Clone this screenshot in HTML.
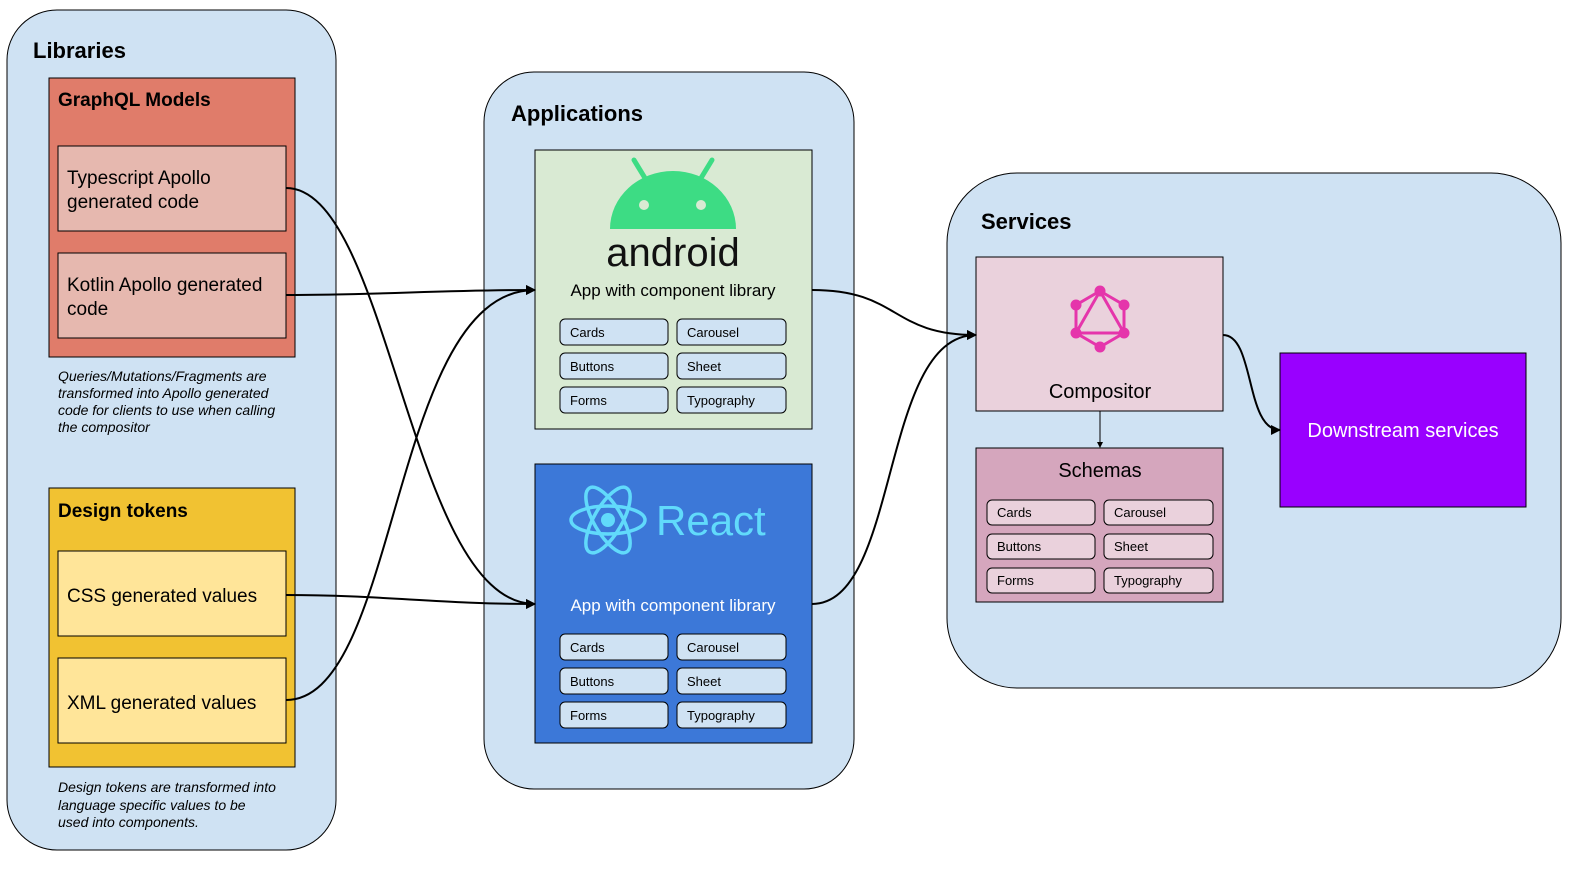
<!DOCTYPE html>
<html><head><meta charset="utf-8"><style>
html,body{margin:0;padding:0;background:#fff;}
svg{display:block;font-family:"Liberation Sans",Arial,sans-serif;}
</style></head><body>
<svg width="1586" height="875" viewBox="0 0 1586 875" xmlns="http://www.w3.org/2000/svg">
<defs>
<marker id="ah" markerWidth="10" markerHeight="10" refX="9" refY="5" orient="auto" markerUnits="userSpaceOnUse"><path d="M0,0 L10,5 L0,10 z" fill="#000"/></marker>
<marker id="ah2" markerWidth="6" markerHeight="6" refX="5" refY="3" orient="auto" markerUnits="userSpaceOnUse"><path d="M0,0 L6,3 L0,6 z" fill="#000"/></marker>
</defs>
<!-- Libraries -->
<rect x="7" y="10" width="329" height="840" rx="50" fill="#cfe2f3" stroke="#000"/>
<text x="33" y="58" font-size="22" font-weight="bold">Libraries</text>
<rect x="49" y="78" width="246" height="279" fill="#e07c6a" stroke="#000"/>
<text x="58" y="106" font-size="19" font-weight="bold">GraphQL Models</text>
<rect x="58" y="146" width="228" height="85" fill="#e6b8af" stroke="#000"/>
<text x="67" y="184" font-size="19">Typescript Apollo</text>
<text x="67" y="208" font-size="19">generated code</text>
<rect x="58" y="253" width="228" height="85" fill="#e6b8af" stroke="#000"/>
<text x="67" y="291" font-size="19">Kotlin Apollo generated</text>
<text x="67" y="315" font-size="19">code</text>
<g font-size="14" font-style="italic">
<text x="58" y="381">Queries/Mutations/Fragments are</text>
<text x="58" y="398">transformed into Apollo generated</text>
<text x="58" y="415">code for clients to use when calling</text>
<text x="58" y="432">the compositor</text>
</g>
<rect x="49" y="488" width="246" height="279" fill="#f1c232" stroke="#000"/>
<text x="58" y="517" font-size="19" font-weight="bold">Design tokens</text>
<rect x="58" y="551" width="228" height="85" fill="#ffe599" stroke="#000"/>
<text x="67" y="602" font-size="19">CSS generated values</text>
<rect x="58" y="658" width="228" height="85" fill="#ffe599" stroke="#000"/>
<text x="67" y="709" font-size="19">XML generated values</text>
<g font-size="14" font-style="italic">
<text x="58" y="792">Design tokens are transformed into</text>
<text x="58" y="810">language specific values to be</text>
<text x="58" y="827">used into components.</text>
</g>
<!-- Applications -->
<rect x="484" y="72" width="370" height="717" rx="50" fill="#cfe2f3" stroke="#000"/>
<text x="511" y="121" font-size="22" font-weight="bold">Applications</text>
<rect x="535" y="150" width="277" height="279" fill="#d9ead3" stroke="#000"/>
<g fill="#3ddc84">
<path d="M610,229 A63,58 0 0 1 736,229 Z"/>
<line x1="634" y1="160" x2="648" y2="183" stroke="#3ddc84" stroke-width="5" stroke-linecap="round"/>
<line x1="712" y1="160" x2="698" y2="183" stroke="#3ddc84" stroke-width="5" stroke-linecap="round"/>
</g>
<circle cx="644" cy="205" r="5" fill="#d9ead3"/>
<circle cx="701" cy="205" r="5" fill="#d9ead3"/>
<text x="673" y="266" font-size="40" text-anchor="middle" fill="#111">android</text>
<text x="673" y="296" font-size="17" text-anchor="middle">App with component library</text>
<g font-size="13" stroke="#000" fill="#cfe2f3">
<rect x="560" y="319" width="108" height="26" rx="5"/><rect x="677" y="319" width="109" height="26" rx="5"/>
<rect x="560" y="353" width="108" height="26" rx="5"/><rect x="677" y="353" width="109" height="26" rx="5"/>
<rect x="560" y="387" width="108" height="26" rx="5"/><rect x="677" y="387" width="109" height="26" rx="5"/>
</g>
<g font-size="13">
<text x="570" y="337">Cards</text><text x="687" y="337">Carousel</text>
<text x="570" y="371">Buttons</text><text x="687" y="371">Sheet</text>
<text x="570" y="405">Forms</text><text x="687" y="405">Typography</text>
</g>
<rect x="535" y="464" width="277" height="279" fill="#3c78d8" stroke="#000"/>
<g fill="none" stroke="#61dafb" stroke-width="3.5">
<ellipse cx="608" cy="520" rx="37" ry="14"/>
<ellipse cx="608" cy="520" rx="37" ry="14" transform="rotate(60 608 520)"/>
<ellipse cx="608" cy="520" rx="37" ry="14" transform="rotate(120 608 520)"/>
</g>
<circle cx="608" cy="520" r="7" fill="#61dafb"/>
<text x="656" y="535" font-size="42" fill="#61dafb">React</text>
<text x="673" y="611" font-size="17" text-anchor="middle" fill="#fff">App with component library</text>
<g stroke="#000" fill="#cfe2f3">
<rect x="560" y="634" width="108" height="26" rx="5"/><rect x="677" y="634" width="109" height="26" rx="5"/>
<rect x="560" y="668" width="108" height="26" rx="5"/><rect x="677" y="668" width="109" height="26" rx="5"/>
<rect x="560" y="702" width="108" height="26" rx="5"/><rect x="677" y="702" width="109" height="26" rx="5"/>
</g>
<g font-size="13">
<text x="570" y="652">Cards</text><text x="687" y="652">Carousel</text>
<text x="570" y="686">Buttons</text><text x="687" y="686">Sheet</text>
<text x="570" y="720">Forms</text><text x="687" y="720">Typography</text>
</g>
<!-- Services -->
<rect x="947" y="173" width="614" height="515" rx="70" fill="#cfe2f3" stroke="#000"/>
<text x="981" y="229" font-size="22" font-weight="bold">Services</text>
<rect x="976" y="257" width="247" height="154" fill="#ead1dc" stroke="#000"/>
<g stroke="#e535ab" stroke-width="3" fill="none">
<polygon points="1100,291 1124,305 1124,333 1100,347 1076,333 1076,305"/>
<polygon points="1100,291 1124,333 1076,333"/>
</g>
<g fill="#e535ab">
<circle cx="1100" cy="291" r="5.5"/><circle cx="1124" cy="305" r="5.5"/><circle cx="1124" cy="333" r="5.5"/>
<circle cx="1100" cy="347" r="5.5"/><circle cx="1076" cy="333" r="5.5"/><circle cx="1076" cy="305" r="5.5"/>
</g>
<text x="1100" y="398" font-size="20" text-anchor="middle">Compositor</text>
<rect x="976" y="448" width="247" height="154" fill="#d5a6bd" stroke="#000"/>
<text x="1100" y="477" font-size="20" text-anchor="middle">Schemas</text>
<g stroke="#000" fill="#ead1dc">
<rect x="987" y="500" width="108" height="25" rx="5"/><rect x="1104" y="500" width="109" height="25" rx="5"/>
<rect x="987" y="534" width="108" height="25" rx="5"/><rect x="1104" y="534" width="109" height="25" rx="5"/>
<rect x="987" y="568" width="108" height="25" rx="5"/><rect x="1104" y="568" width="109" height="25" rx="5"/>
</g>
<g font-size="13">
<text x="997" y="517">Cards</text><text x="1114" y="517">Carousel</text>
<text x="997" y="551">Buttons</text><text x="1114" y="551">Sheet</text>
<text x="997" y="585">Forms</text><text x="1114" y="585">Typography</text>
</g>
<rect x="1280" y="353" width="246" height="154" fill="#9900ff" stroke="#000"/>
<text x="1403" y="437" font-size="20" text-anchor="middle" fill="#fff">Downstream services</text>
<!-- connectors -->
<g fill="none" stroke="#000" stroke-width="2">
<path d="M286,188 C390,188 410,604 535,604" marker-end="url(#ah)"/>
<path d="M286,295 C380,295 440,290 535,290" marker-end="url(#ah)"/>
<path d="M286,595 C380,595 440,604 535,604" marker-end="url(#ah)"/>
<path d="M286,700 C400,700 390,290 535,290" marker-end="url(#ah)"/>
<path d="M812,290 C900,290 890,335 976,335" marker-end="url(#ah)"/>
<path d="M812,604 C900,604 880,335 976,335" marker-end="url(#ah)"/>
<path d="M1223,335 C1255,335 1245,430 1280,430" marker-end="url(#ah)"/>
</g>
<line x1="1100" y1="411" x2="1100" y2="447" stroke="#000" stroke-width="1" marker-end="url(#ah2)"/>
</svg>
</body></html>
